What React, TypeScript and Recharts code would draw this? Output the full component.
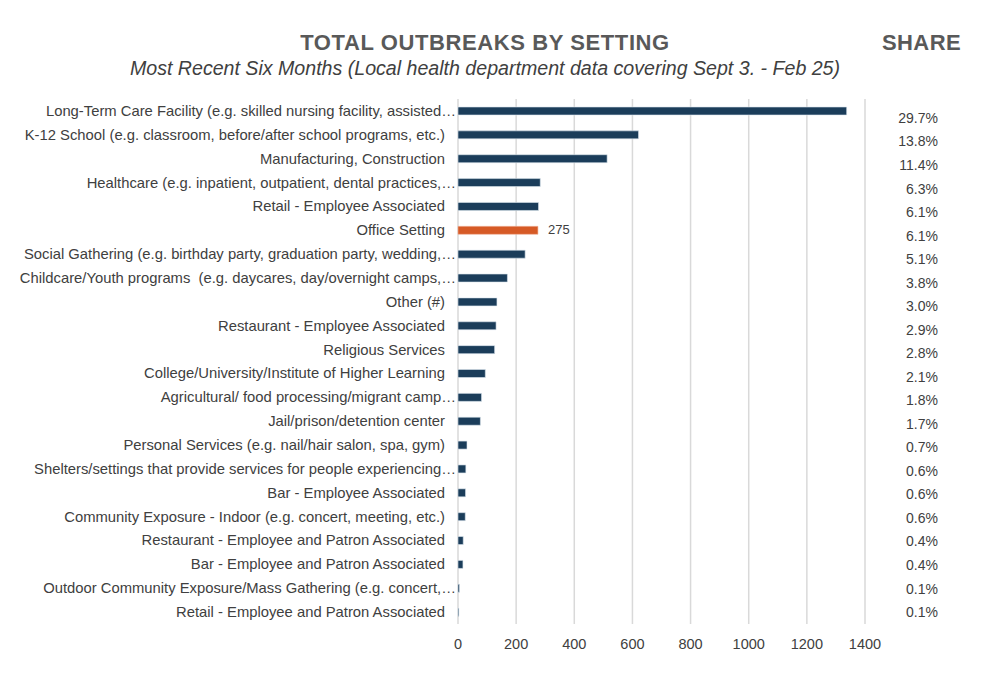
import React from 'react';
import { BarChart, Bar, XAxis, YAxis, CartesianGrid, Cell, LabelList } from 'recharts';

const categories = [
  'Long-Term Care Facility (e.g. skilled nursing facility, assisted…',
  'K-12 School (e.g. classroom, before/after school programs, etc.)',
  'Manufacturing, Construction',
  'Healthcare (e.g. inpatient, outpatient, dental practices,…',
  'Retail - Employee Associated',
  'Office Setting',
  'Social Gathering (e.g. birthday party, graduation party, wedding,…',
  'Childcare/Youth programs  (e.g. daycares, day/overnight camps,…',
  'Other (#)',
  'Restaurant - Employee Associated',
  'Religious Services',
  'College/University/Institute of Higher Learning',
  'Agricultural/ food processing/migrant camp…',
  'Jail/prison/detention center',
  'Personal Services (e.g. nail/hair salon, spa, gym)',
  'Shelters/settings that provide services for people experiencing…',
  'Bar - Employee Associated',
  'Community Exposure - Indoor (e.g. concert, meeting, etc.)',
  'Restaurant - Employee and Patron Associated',
  'Bar - Employee and Patron Associated',
  'Outdoor Community Exposure/Mass Gathering (e.g. concert,…',
  'Retail - Employee and Patron Associated',
];

const outbreaks = [1337, 621, 513, 283, 277, 275, 231, 170, 134, 131, 126, 94, 81, 77, 31, 27, 26, 25, 18, 17, 5, 3];

const shares = ['29.7%', '13.8%', '11.4%', '6.3%', '6.1%', '6.1%', '5.1%', '3.8%', '3.0%', '2.9%', '2.8%', '2.1%', '1.8%', '1.7%', '0.7%', '0.6%', '0.6%', '0.6%', '0.4%', '0.4%', '0.1%', '0.1%'];

const xTicks = [0, 200, 400, 600, 800, 1000, 1200, 1400];

const highlighted = 'Office Setting';

const data = categories.map((name, i) => ({ name, value: outbreaks[i], share: shares[i] }));

const NAVY = '#1B3D5A';
const ORANGE = '#D65A26';
const FONT = '"Liberation Sans", Arial, sans-serif';

const LeftTick = (props: any) => {
  const { x, y, payload } = props;
  const label: string = payload.value;
  const shift = label.endsWith('…') ? 11 : 0;
  return (
    <text x={x - 5 + shift} y={y} dy={5} textAnchor="end" fill="#404040" fontSize={14.8} fontFamily={FONT} style={{ whiteSpace: 'pre' }}>
      {label}
    </text>
  );
};

const RightTick = (props: any) => {
  const { x, y, index } = props;
  const n = categories.length - 1;
  const off = 7 * (1 - index / n);
  return (
    <text x={x + 65} y={y + off} dy={5} textAnchor="end" fill="#404040" fontSize={14} fontFamily={FONT}>
      {shares[index]}
    </text>
  );
};

const ValueLabel = (props: any) => {
  const { x, y, width, height, index } = props;
  if (categories[index] !== highlighted) return null;
  return (
    <text x={x + width + 10} y={y + height / 2} dy={4} fill="#404040" fontSize={13} fontFamily={FONT}>
      {outbreaks[index]}
    </text>
  );
};

export default function App() {
  return (
    <div style={{ position: 'absolute', left: 0, top: 0, width: 1000, height: 678, background: '#fff', fontFamily: FONT }}>
      <div style={{ position: 'absolute', left: 0, width: 970, top: 30, textAlign: 'center', fontSize: 22, letterSpacing: 0.6, fontWeight: 'bold', color: '#595959' }}>
        TOTAL OUTBREAKS BY SETTING
      </div>
      <div style={{ position: 'absolute', left: 882, top: 30, fontSize: 22, letterSpacing: 0.4, fontWeight: 'bold', color: '#595959' }}>
        SHARE
      </div>
      <div style={{ position: 'absolute', left: 0, width: 970, top: 57, textAlign: 'center', fontSize: 19.6, fontStyle: 'italic', color: '#404040' }}>
        Most Recent Six Months (Local health department data covering Sept 3. - Feb 25)
      </div>
      <div style={{ position: 'absolute', left: 0, top: 0 }}>
        <BarChart
          width={1000}
          height={678}
          data={data}
          layout="vertical"
          margin={{ top: 99, right: 35, bottom: 24, left: 0 }}
          barSize={8}
        >
          <CartesianGrid horizontal={false} stroke="#D9D9D9" strokeWidth={1.5} />
          <XAxis
            type="number"
            domain={[0, 1400]}
            ticks={xTicks}
            axisLine={false}
            tickLine={false}
            height={30}
            tick={{ fill: '#404040', fontSize: 14.5, fontFamily: FONT }}
            tickMargin={9}
          />
          <YAxis
            yAxisId="left"
            type="category"
            dataKey="name"
            width={458}
            axisLine={false}
            tickLine={false}
            tick={<LeftTick />}
            interval={0}
          />
          <YAxis
            yAxisId="right"
            orientation="right"
            type="category"
            dataKey="name"
            width={100}
            axisLine={false}
            tickLine={false}
            tick={<RightTick />}
            interval={0}
          />
          <Bar dataKey="value" yAxisId="left" isAnimationActive={false} strokeWidth={0.6}>
            {data.map((d, i) => (
              <Cell key={i} fill={d.name === highlighted ? ORANGE : NAVY} stroke={d.name === highlighted ? '#F2B49A' : '#DCE5EE'} />
            ))}
            <LabelList dataKey="value" content={<ValueLabel />} />
          </Bar>
        </BarChart>
      </div>
    </div>
  );
}
